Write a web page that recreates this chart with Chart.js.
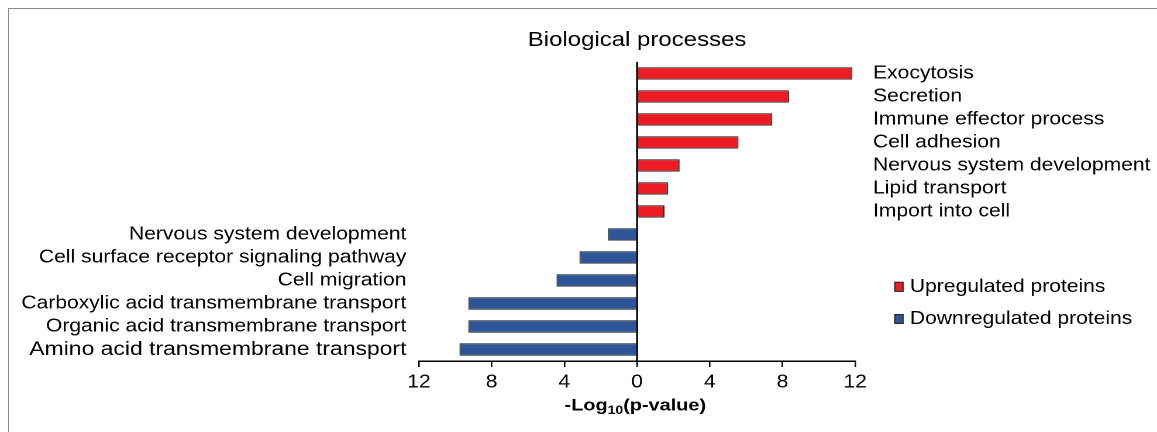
<!DOCTYPE html>
<html>
<head>
<meta charset="utf-8">
<title>Biological processes</title>
<script src="https://cdn.jsdelivr.net/npm/chart.js@4.4.1/dist/chart.umd.min.js"></script>
<style>
  html, body { margin: 0; padding: 0; background: #fff; overflow: hidden; }
  body { width: 1157px; height: 432px; position: relative; }
  #frame { position: absolute; left: 8px; top: 8px; width: 1149px; height: 424px;
           border-top: 1px solid #8a8a8a; border-left: 1px solid #8a8a8a; }
  /* the figure is drawn on a narrower canvas and widened to the page */
  #stage { position: absolute; left: 0; top: 0; width: 989px; height: 432px;
           transform: scaleX(1.16986); transform-origin: 0 0; }
</style>
</head>
<body>
<div id="frame"></div>
<div id="stage"><canvas id="chart" width="989" height="432"></canvas></div>
<script>
// GO biological processes, -log10(p-value)
const upCategories = [
  'Exocytosis',
  'Secretion',
  'Immune effector process',
  'Cell adhesion',
  'Nervous system development',
  'Lipid transport',
  'Import into cell'
];
const upValues = [11.85, 8.36, 7.44, 5.58, 2.34, 1.70, 1.51];

const downCategories = [
  'Nervous system development',
  'Cell surface receptor signaling pathway',
  'Cell migration',
  'Carboxylic acid transmembrane transport',
  'Organic acid transmembrane transport',
  'Amino acid transmembrane transport'
];
const downValues = [1.59, 3.17, 4.43, 9.28, 9.28, 9.77];

const tickValues = [-12, -8, -4, 0, 4, 8, 12];
const seriesNames = ['Upregulated proteins', 'Downregulated proteins'];

const categories = upCategories.concat(downCategories);
const nUp = upCategories.length;

const FONT = '"Liberation Sans", Arial, Helvetica, sans-serif';
const RED = '#ed1c24';
const BLUE = '#2d5597';
const EDGE = '#262626';
const INK = '#000000';

// zero line, axis title with subscript, and the legend
const decor = {
  id: 'decor',
  afterDatasetsDraw(chart) {
    const { ctx, chartArea, scales: { x } } = chart;
    const x0 = x.getPixelForValue(0);
    ctx.save();

    ctx.strokeStyle = INK;
    ctx.lineWidth = 1.6;
    ctx.beginPath();
    ctx.moveTo(x0, chartArea.top);
    ctx.lineTo(x0, chartArea.bottom);
    ctx.stroke();

    // -Log10(p-value)
    const big = 'bold 17px ' + FONT;
    const small = 'bold 12px ' + FONT;
    const parts = [['-Log', big, 0], ['10', small, 3.5], ['(p-value)', big, 0]];
    let total = 0;
    parts.forEach(p => { ctx.font = p[1]; total += ctx.measureText(p[0]).width; });
    let cx = x0 - total / 2 - 1.5;
    const base = 410.7;
    ctx.fillStyle = INK;
    ctx.textAlign = 'left';
    ctx.textBaseline = 'alphabetic';
    parts.forEach(p => {
      ctx.font = p[1];
      ctx.fillText(p[0], cx, base + p[2]);
      cx += ctx.measureText(p[0]).width;
    });

    // legend
    const colors = [RED, BLUE];
    const rows = [286.8, 319.0];
    ctx.font = '18px ' + FONT;
    ctx.textBaseline = 'middle';
    seriesNames.forEach((name, i) => {
      const sx = chartArea.right + 33.4;
      const sy = rows[i] - 5;
      ctx.fillStyle = colors[i];
      ctx.fillRect(sx, sy, 8, 10);
      ctx.strokeStyle = EDGE;
      ctx.lineWidth = 1;
      ctx.strokeRect(sx + 0.5, sy + 0.5, 7, 9);
      ctx.fillStyle = INK;
      ctx.fillText(name, chartArea.right + 46.8, rows[i]);
    });
    ctx.restore();
  }
};

const barStyle = {
  borderColor: EDGE,
  borderWidth: 1,
  grouped: false,
  barPercentage: 0.54,
  categoryPercentage: 1,
  yAxisID: 'y'
};

new Chart(document.getElementById('chart'), {
  type: 'bar',
  data: {
    labels: categories,
    datasets: [
      Object.assign({
        label: seriesNames[0],
        data: upValues.concat(downCategories.map(() => null)),
        backgroundColor: RED
      }, barStyle),
      Object.assign({
        label: seriesNames[1],
        data: upCategories.map(() => null).concat(downValues.map(v => -v)),
        backgroundColor: BLUE
      }, barStyle)
    ]
  },
  options: {
    indexAxis: 'y',
    responsive: false,
    animation: false,
    devicePixelRatio: 2,
    layout: { padding: { left: 0, right: 0, top: 0, bottom: 31 } },
    plugins: {
      legend: { display: false },
      tooltip: { enabled: false },
      title: {
        display: true,
        fullSize: false,
        text: 'Biological processes',
        color: INK,
        font: { family: FONT, size: 20.5, weight: 'normal' },
        padding: { top: 27.8, bottom: 9.5 }
      }
    },
    scales: {
      x: {
        type: 'linear',
        min: -12,
        max: 12,
        afterBuildTicks: s => { s.ticks = tickValues.map(v => ({ value: v })); },
        afterFit: s => { s.height = 40; },
        ticks: {
          callback: v => String(Math.abs(v)),
          color: INK,
          font: { family: FONT, size: 18 },
          padding: 4.5,
          maxRotation: 0
        },
        grid: { drawOnChartArea: false, drawTicks: true, tickLength: 6, color: INK, lineWidth: 1.3 },
        border: { display: true, color: INK, width: 1.5 }
      },
      y: {
        type: 'category',
        position: 'left',
        offset: true,
        afterFit: s => { s.width = 358.1; },
        ticks: {
          autoSkip: false,
          callback: (v, i) => (i >= nUp ? categories[i] : ''),
          color: INK,
          font: c => ({ family: FONT, size: c.index === categories.length - 1 ? 19.6 : 18 }),
          padding: 10.7
        },
        grid: { display: false, drawTicks: false },
        border: { display: false }
      },
      y2: {
        type: 'category',
        position: 'right',
        offset: true,
        afterFit: s => { s.width = 258; },
        ticks: {
          autoSkip: false,
          callback: (v, i) => (i < nUp ? categories[i] : ''),
          color: INK,
          font: { family: FONT, size: 18 },
          padding: 15.3
        },
        grid: { display: false, drawTicks: false },
        border: { display: false }
      }
    }
  },
  plugins: [decor]
});
</script>
</body>
</html>
